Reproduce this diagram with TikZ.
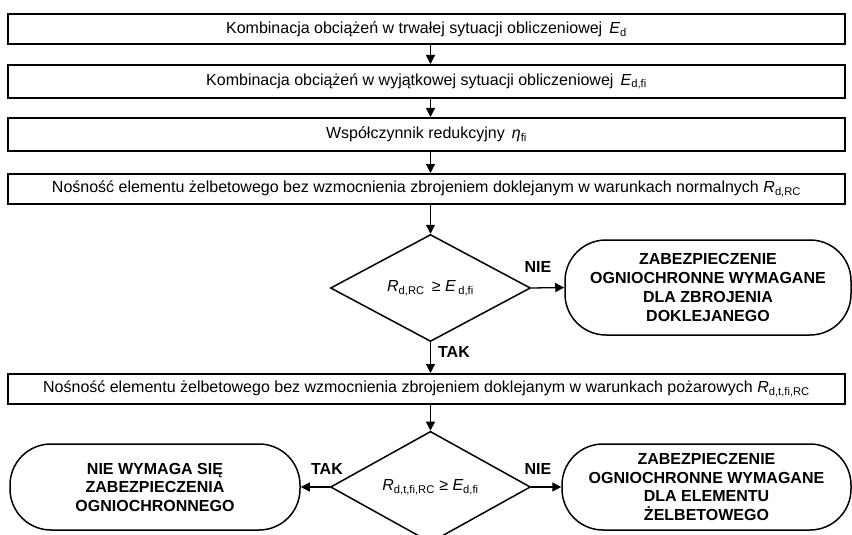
\documentclass[tikz,border=0pt]{standalone}
\usepackage{fontspec}
\setmainfont{Liberation Sans}
\usetikzlibrary{shapes.geometric,arrows.meta}
\newcommand\sbs[1]{\textsubscript{#1}}
\begin{document}
\begin{tikzpicture}[x=1pt,y=-1pt,
  every node/.style={font=\fontsize{16}{19}\selectfont},
  box/.style={draw,line width=1.6pt,minimum width=837pt,inner sep=0pt,anchor=north},
  dec/.style={draw,diamond,line width=1.5pt,minimum width=200pt,minimum height=107pt,inner sep=0pt},
  term/.style={draw,line width=1.5pt,rounded corners=41pt,inner sep=0pt,align=center,
     font=\fontsize{16}{19}\selectfont\bfseries},
  lab/.style={font=\fontsize{16}{19}\selectfont\bfseries},
  arr/.style={line width=1.3pt,-{Triangle[length=9pt,width=9pt]}}]
\useasboundingbox (0,0) rectangle (852,535);
\clip (0,0) rectangle (852,535);
\node[box,minimum height=30pt] (b1) at (426.5,13.5) {Kombinacja obciążeń w trwałej sytuacji obliczeniowej \,{\itshape E}\sbs{d}};
\node[box,minimum height=33pt] (b2) at (426.5,64) {Kombinacja obciążeń w wyjątkowej sytuacji obliczeniowej \,{\itshape E}\sbs{d,fi}};
\node[box,minimum height=33pt] (b3) at (426.5,117) {Współczynnik redukcyjny \,{\itshape η}\sbs{fi}};
\node[box,minimum height=30pt] (b4) at (426.5,173) {Nośność elementu żelbetowego bez wzmocnienia zbrojeniem doklejanym w warunkach normalnych {\itshape R}\sbs{d,RC}};
\node[dec] (d1) at (430.5,288) {{\itshape R}\sbs{d,RC} \,≥ {\itshape E}\,\sbs{d,fi}};
\node[term,minimum width=286pt,minimum height=95pt] (r1) at (708,287.5) {ZABEZPIECZENIE\\OGNIOCHRONNE WYMAGANE\\DLA ZBROJENIA\\DOKLEJANEGO};
\node[box,minimum height=30pt] (b5) at (426.5,373) {Nośność elementu żelbetowego bez wzmocnienia zbrojeniem doklejanym w warunkach pożarowych {\itshape R}\sbs{d,t,fi,RC}};
\node[dec] (d2) at (430.5,487) {{\itshape R}\sbs{d,t,fi,RC} ≥ {\itshape E}\sbs{d,fi}};
\node[term,minimum width=290pt,minimum height=86pt,font=\fontsize{16}{18.5}\selectfont\bfseries] (l2) at (155,487) {NIE WYMAGA SIĘ\\ZABEZPIECZENIA\\OGNIOCHRONNEGO};
\node[term,minimum width=289pt,minimum height=86pt,font=\fontsize{16}{18.5}\selectfont\bfseries] (r2) at (706.5,487) {ZABEZPIECZENIE\\OGNIOCHRONNE WYMAGANE\\DLA ELEMENTU\\ŻELBETOWEGO};
\draw[arr] (b1.south -| d1.north) -- (b2.north -| d1.north);
\draw[arr] (b2.south -| d1.north) -- (b3.north -| d1.north);
\draw[arr] (b3.south -| d1.north) -- (b4.north -| d1.north);
\draw[arr] (b4.south -| d1.north) -- (d1.north);
\draw[arr] (d1.east) -- (r1.west);
\draw[arr] (d1.south) -- (b5.north -| d1.south);
\draw[arr] (b5.south -| d2.north) -- (d2.north);
\draw[arr] (d2.west) -- (l2.east);
\draw[arr] (d2.east) -- (r2.west);
\node[lab] (n1) at (538,267) {NIE};
\node[lab] (t1) at (454,352) {TAK};
\node[lab] (t2) at (327,469) {TAK};
\node[lab] (n2) at (538,469) {NIE};
\end{tikzpicture}
\end{document}
